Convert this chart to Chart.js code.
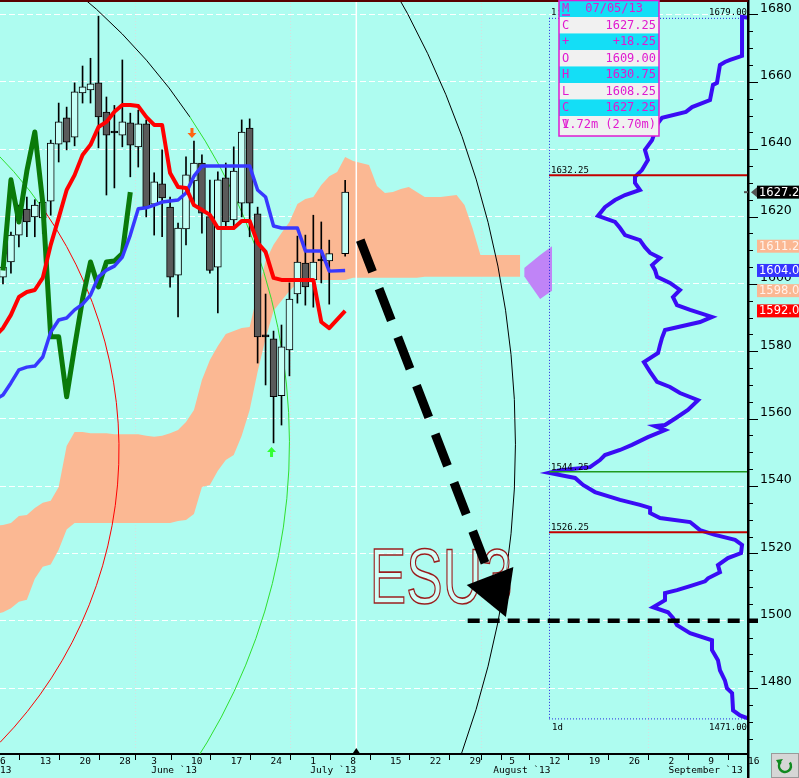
<!DOCTYPE html>
<html>
<head>
<meta charset="utf-8">
<script src="https://cdn.jsdelivr.net/npm/chart.js@4.4.1/dist/chart.umd.min.js"></script>
<style>
  html, body { margin: 0; padding: 0; background: #aefcf0; }
  #wrap { width: 799px; height: 778px; }
</style>
</head>
<body>
<div id="wrap"><canvas id="myChart" width="799" height="778"></canvas></div>
<script>
const BG = '#aefcf0'

// Daily bars, slot 0 = Mon May 6 2013, one slot per weekday (July 4 stays empty)
const opens = [1602, 1606.5, 1614.5, 1622.2, 1619.9, 1619.6, 1624.6, 1641.5, 1649.3, 1643.6,
    1656.7, 1657.6, 1659.7, 1651, 1644.8, 1644.2, 1647.8, 1640.7, 1647.5, 1623.7,
    1629.7, 1622.8, 1602.6, 1616.3, 1630.6, 1635.9, 1620, 1605, 1631.5, 1619,
    1624, 1646.3, 1620.8, 1584.3, 1583.7, 1566.8, 1580.4, 1597, 1606.2, 1601.2,
    1606.8, 1606.8, null, 1609]
const highs = [1607, 1615.4, 1623.4, 1625.8, 1625, 1626, 1642.7, 1653.7, 1652.5, 1659.7,
    1664.7, 1667, 1679.5, 1655.5, 1653, 1666.5, 1650.7, 1651.6, 1648.7, 1633,
    1639.8, 1625.8, 1618.1, 1637.7, 1642.4, 1638.3, 1630.8, 1633.3, 1635.9, 1640.7,
    1648.7, 1649, 1622.8, 1597, 1586, 1587.8, 1600.3, 1614.2, 1614.5, 1620.4,
    1618.4, 1613, null, 1630.75]
const lows = [1600, 1603.2, 1611, 1614, 1614, 1615, 1620.4, 1636.2, 1639.8, 1641,
    1653.7, 1653.7, 1640.4, 1626.4, 1628.5, 1640.7, 1631.8, 1634.7, 1619.9, 1614.5,
    1614, 1599, 1590.2, 1611.6, 1624, 1615.1, 1603.2, 1591.4, 1616.9, 1616.9,
    1619.9, 1614, 1576.5, 1570, 1552.8, 1558.1, 1572.7, 1594.3, 1593.7, 1593.1,
    1600.3, 1594, null, 1608.25]
const closes = [1605, 1614.5, 1622.8, 1618.4, 1623.4, 1624.3, 1641.8, 1648.1, 1642.1, 1657,
    1658.5, 1659.4, 1649.6, 1644.2, 1644.8, 1648.1, 1641.2, 1647.5, 1622.8, 1630.3,
    1625.5, 1602, 1616.6, 1632.4, 1635.9, 1621, 1604, 1630.9, 1618.4, 1633.5,
    1645.1, 1624, 1584.3, 1584.3, 1566.5, 1581.3, 1595.5, 1606.5, 1599.1, 1606.5,
    1606.8, 1609, null, 1627.25]

// Indicator lines; first slot is -1 (the bar before May 6, cut by the left edge)
const lineStart = -1
const redLine = [1584.5, 1586.9, 1590.8, 1596.1, 1597.6, 1598.2, 1601.8, 1611.6, 1619.6, 1627.9, 1632.3,
    1638.3, 1641.3, 1646.6, 1648.1, 1651.1, 1653.1, 1653.1, 1652.8, 1649.6, 1647.2,
    1647.2, 1632.9, 1628.8, 1628.5, 1623.4, 1622.0, 1620.5, 1616.6, 1616.6, 1616.6,
    1618.7, 1618.7, 1612.2, 1609.5, 1601.8, 1601.2, 1601.2, 1601.2, 1601.2, 1601.2,
    1588.7, 1586.9, null, 1592.0]
const blueLine = [1565.6, 1567.0, 1570.6, 1574.5, 1575.3, 1575.6, 1578.3, 1585.7, 1589.3, 1589.9, 1592.3,
    1594.0, 1596.7, 1602.1, 1604.1, 1605.3, 1608.0, 1614.5, 1622.3, 1622.6, 1623.4,
    1624.3, 1624.6, 1624.9, 1627.0, 1632.0, 1635.0, 1635.0, 1635.0, 1635.0, 1635.0,
    1635.0, 1635.0, 1627.9, 1625.8, 1617.2, 1616.6, 1616.6, 1616.6, 1609.8, 1609.8,
    1609.8, 1603.8, null, 1604.0]
// lagging line, slots 0..16
const greenLine = [1604, 1630.9, 1618.4, 1633.5, 1645.1, 1624, 1584.3, 1584.3, 1566.5, 1581.3,
    1595.5, 1606.5, 1599.1, 1606.5, 1606.8, 1609, 1627.25]

// cloud edges, slots -1..65
const cloudTop = [1528.2, 1528.4, 1529.0, 1531.1, 1531.4, 1533.5, 1535.0, 1535.6, 1539.7, 1551.9, 1556.0,
    1556.0, 1555.7, 1555.7, 1555.7, 1555.4, 1555.4, 1555.4, 1555.4, 1554.9, 1554.6,
    1554.9, 1555.7, 1556.6, 1559.0, 1562.6, 1571.5, 1577.4, 1581.6, 1585.1, 1586.0,
    1586.9, 1587.2, 1597.3, 1606.8, 1611.6, 1615.1, 1618.4, 1623.7, 1625.2, 1625.8,
    1629.4, 1632.0, 1633.2, 1637.7, 1636.5, 1635.9, 1635.3, 1629.1, 1627.0, 1627.3,
    1628.2, 1628.8, 1627.3, 1625.8, 1625.8, 1625.8, 1626.1, 1626.4, 1623.4, 1616.6,
    1608.6, 1608.6, 1608.6, 1608.6, 1608.6, 1608.6]
const cloudBottom = [1502.0, 1502.5, 1503.7, 1505.6, 1506.2, 1512.5, 1516.0, 1516.7, 1521.1, 1527.1, 1529.0,
    1529.0, 1529.0, 1529.0, 1529.0, 1529.0, 1529.0, 1529.0, 1529.0, 1529.0, 1529.0,
    1529.0, 1529.0, 1529.6, 1529.9, 1531.7, 1539.7, 1540.3, 1544.5, 1547.7, 1549.2,
    1554.9, 1562.6, 1573.9, 1583.7, 1592.0, 1595.0, 1597.9, 1600.3, 1600.9, 1601.2,
    1601.2, 1601.2, 1601.2, 1601.2, 1601.8, 1601.8, 1601.8, 1601.8, 1601.8, 1601.8,
    1601.8, 1601.8, 1601.8, 1602.1, 1602.1, 1602.1, 1602.1, 1602.1, 1602.1, 1602.1,
    1602.1, 1602.1, 1602.1, 1602.1, 1602.1, 1602.1]
const twistSlots = [65.5, 67.5, 69.0]
const twistTop = [1604.7, 1608.6, 1611.2]
const twistBottom = [1602.3, 1595.5, 1598.0]

// volume at price (0 = right edge of the panel, 100 = left edge)
const profilePrice = [1679.0, 1679.3, 1667.7, 1666.5, 1665.9, 1665.0, 1659.7, 1659.1, 1654.6, 1652.5,
    1651.1, 1649.3, 1647.8, 1642.7, 1639.8, 1636.8, 1633.8, 1631.8, 1630.0, 1627.9,
    1626.4, 1624.9, 1622.8, 1620.2, 1618.4, 1616.6, 1614.5, 1613.0, 1610.9, 1609.2,
    1607.7, 1605.6, 1604.1, 1602.1, 1600.3, 1598.2, 1596.1, 1593.7, 1592.3, 1590.2,
    1588.7, 1586.3, 1584.0, 1581.9, 1579.5, 1576.8, 1573.9, 1570.9, 1569.4, 1567.6,
    1565.5, 1562.6, 1560.2, 1558.1, 1557.8, 1556.6, 1554.5, 1552.2, 1550.7, 1549.2,
    1547.7, 1545.6, 1544.7, 1543.9, 1542.4, 1540.3, 1538.2, 1535.9, 1534.4, 1533.5,
    1532.0, 1530.5, 1529.3, 1526.9, 1525.5, 1524.0, 1522.5, 1520.1, 1518.6, 1516.5,
    1514.4, 1512.6, 1511.7, 1510.3, 1509.1, 1508.2, 1506.1, 1504.0, 1502.5, 1500.8,
    1498.7, 1496.3, 1494.2, 1491.3, 1488.3, 1485.3, 1482.3, 1480.0, 1478.5, 1473.4,
    1471.9, 1471.0]
const profileVol = [0, 3.0, 3.0, 9.0, 11.6, 14.1, 15.6, 17.6, 19.1, 28.1,
    31.2, 43.2, 45.2, 48.2, 51.8, 50.3, 53.3, 56.8, 56.8, 54.3,
    61.8, 66.8, 71.9, 75.4, 66.8, 64.3, 61.8, 54.3, 51.8, 49.2,
    44.2, 48.2, 46.7, 45.7, 39.2, 34.2, 37.7, 35.7, 29.1, 18.1,
    24.1, 41.7, 43.2, 44.2, 45.2, 52.3, 49.2, 45.7, 39.2, 34.2,
    25.1, 30.2, 36.2, 41.7, 46.7, 41.7, 50.3, 58.3, 64.3, 71.9,
    74.4, 79.4, 94.5, 100, 86.9, 82.9, 76.9, 64.3, 54.3, 49.2,
    49.2, 44.2, 29.1, 24.1, 16.6, 6.5, 3.0, 3.5, 10.1, 15.1,
    14.1, 20.1, 21.6, 29.1, 35.7, 41.7, 41.7, 47.7, 40.2, 37.7,
    35.7, 29.1, 18.1, 18.1, 15.1, 14.1, 11.6, 10.6, 8.0, 7.5,
    4.0, 0]
const profileLevels = [1632.25, 1544.25, 1526.25]
const profileLevelColors = ['#c40000', '#1e9a1e', '#c40000']

// bottom axis
const tickSlots = [0, 5, 10, 15, 19, 24, 29, 34, 39, 44, 49, 54, 59, 62, 64, 69, 74, 79, 84, 89, 94]
const tickDays = ['6', '13', '20', '28', '3', '10', '17', '24', '1', '8', '15', '22', '29', '', '5', '12', '19', '26', '2', '9', '16']
const tickMonths = ['13', '', '', '', 'June `13', '', '', '', 'July `13', '', '', '', '', 'August `13', '', '', '', '', 'September `13', '', '']

// right axis markers
const markerValues = [1611.2, 1604.0, 1598.0, 1592.0]
const markerColors = ['#fbb893', '#3535ff', '#fbb893', '#ff0000']
const lastPrice = 1627.25

// drawings
const arcCenters = [[-37.45, 1552.7], [-38.17, 1550.8], [-50.38, 1552.4]]
const arcEdges = [[36.0, 1552.7], [14.58, 1550.8], [64.4, 1552.4]]
const arcSplits = [[23.5, 1649.6], [5.03, 1621.1], null]
const arcColors = [['#000000', '#2fe02f'], ['#2fe02f', '#ff0000'], ['#000000']]
const arrowFrom = [44.9, 1613.0]
const arrowTo = [63.2, 1501.1]
const targetLevel = 1500
const targetStart = 58.4
const nowSlot = 44.4
const symbolText = 'ESU3'
const symbolAt = [46.1, 1505.3]
const signalDown = [24, 1644.8]
const signalUp = [34, 1550.1]

// data window box
const infoKeys = ['M', 'C', '+', 'O', 'H', 'L', 'C', 'V']
const infoValues = ['07/05/13', '1627.25', '+18.25', '1609.00', '1630.75', '1608.25', '1627.25', '1.72m (2.70m)']

// build datasets
let wicks = [], bodies = [], bodyColors = []
for (let i = 0; i < opens.length; i++) {
    if (opens[i] === null) continue
    wicks.push({ x: i, y: [lows[i], highs[i]] })
    bodies.push({ x: i, y: [opens[i], closes[i]] })
    if (closes[i] > opens[i]) bodyColors.push('#c4fff6')
    else if (closes[i] < opens[i]) bodyColors.push('#5a5a5a')
    else bodyColors.push('#000000')
}
function pts(values, start) {
    let out = []
    values.forEach(function (v, i) { if (v !== null) out.push({ x: i + (start || 0), y: v }) })
    return out
}
function pair(xs, ys) {
    return xs.map(function (x, i) { return { x: x, y: ys[i] } })
}

const lineBase = { type: 'line', pointRadius: 0, tension: 0, borderJoinStyle: 'round' }

function drawArcs(chart) {
    const ctx = chart.ctx, a = chart.chartArea
    const sx = chart.scales.x, sy = chart.scales.y
    ctx.save()
    ctx.beginPath()
    ctx.rect(a.left, a.top, a.right - a.left, a.bottom - a.top)
    ctx.clip()
    ctx.lineWidth = 1
    arcCenters.forEach(function (c, k) {
        const cx = sx.getPixelForValue(c[0]), cy = sy.getPixelForValue(c[1])
        const r = sx.getPixelForValue(arcEdges[k][0]) - cx
        const cols = arcColors[k]
        let split = Math.PI / 2
        if (arcSplits[k]) {
            split = Math.atan2(sy.getPixelForValue(arcSplits[k][1]) - cy, sx.getPixelForValue(arcSplits[k][0]) - cx)
        }
        ctx.strokeStyle = cols[0]
        ctx.beginPath()
        ctx.arc(cx, cy, r, -Math.PI / 2, split)
        ctx.stroke()
        if (cols.length > 1) {
            ctx.strokeStyle = cols[1]
            ctx.beginPath()
            ctx.arc(cx, cy, r, split, Math.PI / 2)
            ctx.stroke()
        }
    })
    ctx.restore()
}

function drawSignal(ctx, x, y, up, color) {
    ctx.save()
    ctx.fillStyle = color
    ctx.beginPath()
    const d = up ? -1 : 1
    ctx.moveTo(x - 1.5, y - 5 * d)
    ctx.lineTo(x + 1.5, y - 5 * d)
    ctx.lineTo(x + 1.5, y)
    ctx.lineTo(x + 4.5, y)
    ctx.lineTo(x, y + 5 * d)
    ctx.lineTo(x - 4.5, y)
    ctx.lineTo(x - 1.5, y)
    ctx.closePath()
    ctx.fill()
    ctx.restore()
}

const decor = {
    id: 'decor',
    beforeDraw(chart) {
        const ctx = chart.ctx
        ctx.save()
        ctx.fillStyle = BG
        ctx.fillRect(0, 0, chart.width, chart.height)
        ctx.restore()
    },
    beforeDatasetDraw(chart, args) {
        if (args.index === 4) drawArcs(chart)
    },
    afterDatasetsDraw(chart) {
        const ctx = chart.ctx, a = chart.chartArea
        const x = chart.scales.x.getPixelForValue(nowSlot)
        ctx.save()
        ctx.strokeStyle = '#ffffff'
        ctx.lineWidth = 1.5
        ctx.beginPath()
        ctx.moveTo(x, a.top)
        ctx.lineTo(x, a.bottom)
        ctx.stroke()
        drawSignal(ctx, chart.scales.x.getPixelForValue(signalDown[0]) - 2, chart.scales.y.getPixelForValue(signalDown[1]), false, '#ff6414')
        drawSignal(ctx, chart.scales.x.getPixelForValue(signalUp[0]) - 2, chart.scales.y.getPixelForValue(signalUp[1]), true, '#33ff33')
        ctx.restore()
    },
    afterDraw(chart) {
        const ctx = chart.ctx, a = chart.chartArea
        const sx = chart.scales.x, sy = chart.scales.y, sv = chart.scales.xv
        const X = v => sx.getPixelForValue(v), Y = v => sy.getPixelForValue(v)
        ctx.save()

        // profile frame
        const pl = sv.getPixelForValue(100), pt = Y(1679), pb = Y(1471)
        ctx.strokeStyle = '#2828e0'
        ctx.lineWidth = 1
        ctx.setLineDash([1, 2])
        ctx.beginPath()
        ctx.moveTo(pl + 0.5, pt); ctx.lineTo(pl + 0.5, pb)
        ctx.moveTo(pl, pt + 0.5); ctx.lineTo(a.right, pt + 0.5)
        ctx.moveTo(pl, pb + 0.5); ctx.lineTo(a.right, pb + 0.5)
        ctx.stroke()
        ctx.setLineDash([])
        ctx.fillStyle = '#000'
        ctx.font = '9px "DejaVu Sans Mono"'
        ctx.textBaseline = 'alphabetic'
        ctx.textAlign = 'left'
        ctx.fillText('1:', pl + 2, pt - 3)
        ctx.fillText('1d', pl + 3, pb + 12)
        profileLevels.forEach(function (v) {
            ctx.fillText(v.toFixed(2), pl + 2, Y(v) - 2)
        })
        ctx.textAlign = 'right'
        ctx.fillText('1679.00', a.right - 1, pt - 3)
        ctx.fillText('1471.00', a.right - 1, pb + 12)

        // symbol
        ctx.save()
        ctx.translate(X(symbolAt[0]), Y(symbolAt[1]))
        ctx.scale(0.7, 1)
        ctx.font = '78px "Liberation Sans"'
        ctx.textAlign = 'left'
        ctx.fillStyle = 'rgba(235,255,252,0.55)'
        ctx.fillText(symbolText, 0, 0)
        ctx.lineWidth = 1.6
        ctx.strokeStyle = '#9a1b1b'
        ctx.strokeText(symbolText, 0, 0)
        ctx.restore()

        // projected move
        const x1 = X(arrowFrom[0]), y1 = Y(arrowFrom[1]), x2 = X(arrowTo[0]), y2 = Y(arrowTo[1])
        const len = Math.hypot(x2 - x1, y2 - y1), ux = (x2 - x1) / len, uy = (y2 - y1) / len
        const bx = x2 - ux * 44, by = y2 - uy * 44
        ctx.strokeStyle = '#000'
        ctx.lineWidth = 9
        ctx.setLineDash([34, 18])
        ctx.beginPath()
        ctx.moveTo(x1, y1)
        ctx.lineTo(bx, by)
        ctx.stroke()
        ctx.setLineDash([])
        ctx.fillStyle = '#000'
        ctx.beginPath()
        ctx.moveTo(x2, y2)
        ctx.lineTo(bx - uy * 25, by + ux * 25)
        ctx.lineTo(bx + uy * 25, by - ux * 25)
        ctx.closePath()
        ctx.fill()

        // target level
        ctx.lineWidth = 4.5
        ctx.setLineDash([12, 8])
        ctx.beginPath()
        ctx.moveTo(X(targetStart), Y(targetLevel))
        ctx.lineTo(a.right + 10, Y(targetLevel))
        ctx.stroke()
        ctx.setLineDash([])

        // right axis tick marks and frame
        ctx.fillStyle = '#000'
        sy.ticks.forEach(function (t) {
            const len = Math.round(t.value) % 20 === 0 ? 10 : 5
            ctx.fillRect(a.right, Math.round(Y(t.value)), len, 1)
        })
        ctx.fillRect(a.right - 1, 0, 2.5, chart.height)
        ctx.fillStyle = '#5a0000'
        ctx.fillRect(0, 0, a.right, 2)

        // price markers
        ctx.font = '11.5px "DejaVu Sans"'
        ctx.textAlign = 'left'
        ctx.textBaseline = 'middle'
        markerValues.forEach(function (v, k) {
            const y = Y(v)
            ctx.fillStyle = markerColors[k]
            ctx.fillRect(757, y - 6.5, 42, 13)
            ctx.fillStyle = k === 0 || k === 2 ? '#fff3ec' : '#ffffff'
            ctx.fillText(v.toFixed(1), 759, y + 0.5)
        })
        const ly = Y(lastPrice)
        ctx.fillStyle = '#000'
        ctx.fillRect(757, ly - 6.5, 42, 13)
        ctx.fillStyle = '#555'
        ctx.beginPath()
        ctx.moveTo(751, ly)
        ctx.lineTo(757, ly - 5)
        ctx.lineTo(757, ly + 5)
        ctx.closePath()
        ctx.fill()
        ctx.fillRect(744, ly - 1, 4, 2)
        ctx.fillStyle = '#fff'
        ctx.fillText(String(lastPrice).slice(0, 6), 759, ly + 0.5)

        // current bar marker on time axis
        const nx = X(nowSlot)
        ctx.fillStyle = '#000'
        ctx.beginPath()
        ctx.moveTo(nx - 4, a.bottom)
        ctx.lineTo(nx + 4, a.bottom)
        ctx.lineTo(nx, a.bottom - 6)
        ctx.closePath()
        ctx.fill()

        // refresh button
        ctx.fillStyle = '#d6d6d6'
        ctx.fillRect(771, 753, 28, 25)
        ctx.strokeStyle = '#9a9a9a'
        ctx.lineWidth = 1
        ctx.strokeRect(771.5, 753.5, 27, 24)
        ctx.strokeStyle = '#108a20'
        ctx.lineWidth = 2.5
        ctx.beginPath()
        ctx.arc(785, 766, 6, -0.2 * Math.PI, 1.25 * Math.PI)
        ctx.stroke()
        ctx.fillStyle = '#108a20'
        ctx.beginPath()
        ctx.moveTo(776, 760)
        ctx.lineTo(783, 759)
        ctx.lineTo(779, 765)
        ctx.closePath()
        ctx.fill()

        // data window
        const bx0 = 559, bw = 100, rowH = 16.5
        infoKeys.forEach(function (k, r) {
            const top = 0.5 + r * rowH
            const h = r === infoKeys.length - 1 ? 136 - top : rowH
            ctx.fillStyle = r % 2 === 0 ? '#14def6' : '#f1f1f1'
            ctx.fillRect(bx0, top, bw, h)
        })
        ctx.strokeStyle = '#e01ad0'
        ctx.lineWidth = 1.5
        ctx.strokeRect(bx0, 0.5, bw, 135.5)
        ctx.fillStyle = '#e01ad0'
        ctx.font = '12px "DejaVu Sans Mono"'
        ctx.textBaseline = 'middle'
        infoKeys.forEach(function (k, r) {
            const cy = 0.5 + r * rowH + rowH / 2 + 0.5
            ctx.textAlign = 'left'
            ctx.fillText(k, 562, cy)
            if (r === 0) ctx.fillRect(562, cy + 5, 8, 1.5)
            if (r === infoKeys.length - 1) {
                ctx.fillText(infoValues[r], 562, cy)
            } else {
                ctx.textAlign = 'right'
                ctx.fillText(infoValues[r], r === 0 ? 643 : 656, cy)
            }
        })
        ctx.restore()
    }
}

const ctx = document.getElementById('myChart')
const myChart = new Chart(ctx, {
    data: {
        datasets: [
            { ...lineBase, data: pts(cloudBottom, lineStart), borderWidth: 0, borderColor: 'rgba(0,0,0,0)', fill: false, order: 20 },
            { ...lineBase, data: pts(cloudTop, lineStart), borderWidth: 0, borderColor: 'rgba(0,0,0,0)', fill: '-1', backgroundColor: '#fbb893', order: 20 },
            { ...lineBase, data: pair(twistSlots, twistBottom), borderWidth: 0, borderColor: 'rgba(0,0,0,0)', fill: false, order: 19 },
            { ...lineBase, data: pair(twistSlots, twistTop), borderWidth: 0, borderColor: 'rgba(0,0,0,0)', fill: '-1', backgroundColor: '#c084f7', order: 19 },
            { type: 'bar', data: wicks, backgroundColor: '#000', borderWidth: 0, barThickness: 1, grouped: false, order: 15 },
            { type: 'bar', data: bodies, backgroundColor: bodyColors, borderColor: '#000', borderWidth: 1, borderSkipped: false, barThickness: 7, minBarLength: 2, grouped: false, order: 14 },
            { ...lineBase, data: pts(greenLine), borderColor: '#0a7a0a', borderWidth: 5, order: 12 },
            { ...lineBase, data: pts(blueLine, lineStart), borderColor: '#3838ff', borderWidth: 3.5, order: 11 },
            { ...lineBase, data: pts(redLine, lineStart), borderColor: '#ff0000', borderWidth: 4, order: 10 },
            { ...lineBase, xAxisID: 'xv', data: pair(profileVol, profilePrice), borderColor: '#3a0cf5', borderWidth: 4, borderJoinStyle: 'miter', order: 9 },
            ...profileLevels.map(function (v, k) {
                return { ...lineBase, xAxisID: 'xv', data: [{ x: 100, y: v }, { x: 0, y: v }], borderColor: profileLevelColors[k], borderWidth: k === 1 ? 1.5 : 2, order: 8 }
            })
        ]
    },
    options: {
        responsive: false,
        animation: false,
        devicePixelRatio: 1,
        layout: { padding: 0 },
        plugins: { legend: { display: false }, tooltip: { enabled: false }, title: { display: false } },
        scales: {
            x: {
                type: 'linear', min: -0.375, max: 93.625, offset: false,
                afterBuildTicks: function (s) { s.ticks = tickSlots.map(function (t) { return { value: t - 0.375 } }) },
                ticks: {
                    autoSkip: false, maxRotation: 0, minRotation: 0, align: 'start', padding: -3,
                    color: '#000', font: { family: 'DejaVu Sans Mono', size: 9.5, lineHeight: 0.95 },
                    callback: function (v, k) { return tickMonths[k] ? [tickDays[k], tickMonths[k]] : tickDays[k] }
                },
                grid: {
                    color: function (c) { return c.index > 0 && tickMonths[c.index] ? 'rgba(215,222,222,0.95)' : 'rgba(0,0,0,0)' },
                    tickColor: '#000', tickLength: 6, lineWidth: 1
                },
                border: { display: true, color: '#000', width: 2, dash: [1, 2] },
                afterFit: function (s) { s.height = 24; s.paddingLeft = 0; s.paddingRight = 0 }
            },
            xv: { type: 'linear', display: false, reverse: true, min: 0, max: 375.9 },
            y: {
                position: 'right', min: 1460.43, max: 1684.3,
                ticks: {
                    stepSize: 5, maxTicksLimit: 100, autoSkip: false, includeBounds: false, padding: 12, labelOffset: -6,
                    color: '#000', font: { family: 'DejaVu Sans', size: 12.5 },
                    callback: function (v) { return Math.round(v) % 20 === 0 ? String(Math.round(v)) : '' }
                },
                grid: {
                    drawTicks: false, lineWidth: 1,
                    color: function (c) { return c.tick && Math.round(c.tick.value) % 20 === 0 ? 'rgba(255,255,255,0.95)' : 'rgba(0,0,0,0)' }
                },
                border: { display: true, color: '#000', width: 2, dash: [6, 3] },
                afterFit: function (s) { s.width = 51; s.paddingTop = 0; s.paddingBottom = 0 }
            }
        }
    },
    plugins: [decor]
})
</script>
</body>
</html>
